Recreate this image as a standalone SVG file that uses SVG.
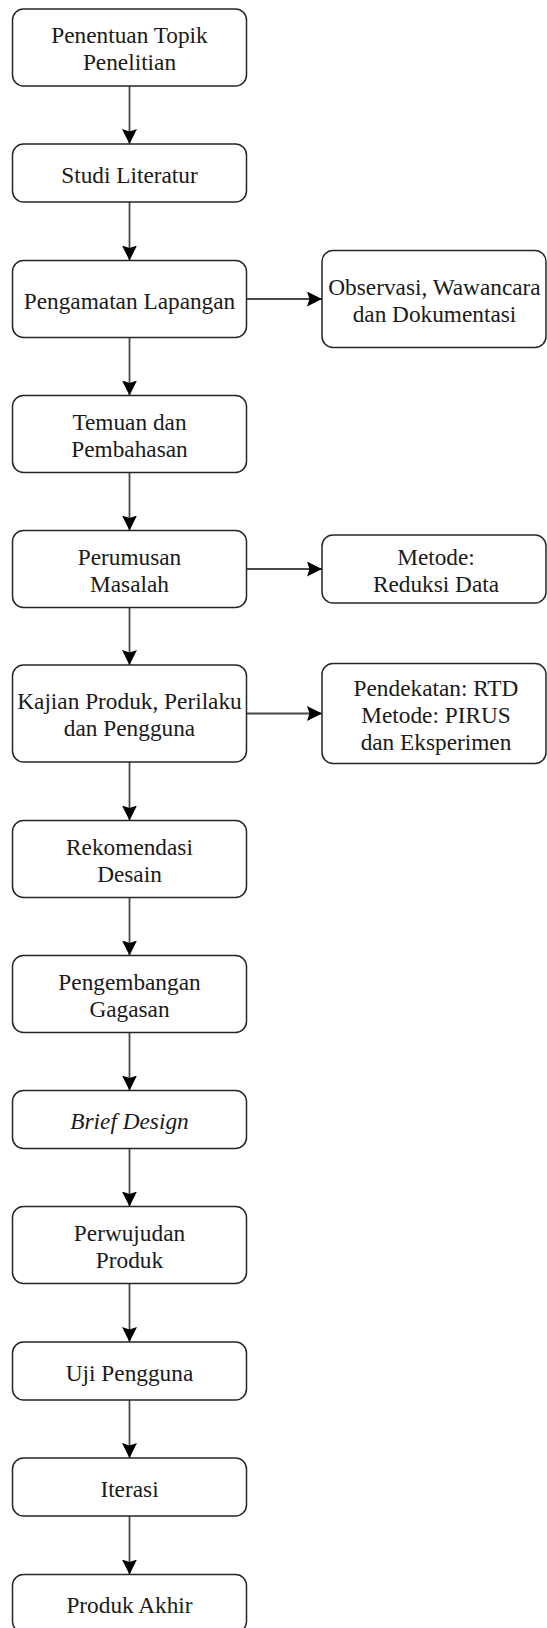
<svg xmlns="http://www.w3.org/2000/svg" width="547" height="1628" viewBox="0 0 547 1628">
<defs>
<style>
.box{fill:#fff;stroke:#262626;stroke-width:1.5}
.t{font-family:"Liberation Serif","Times New Roman",serif;font-size:23.3px;fill:#1a1a1a;text-anchor:middle}
.i{font-style:italic}
.c{fill:none;stroke:#4a4a4a;stroke-width:1.8}
</style>
<marker id="ah" viewBox="0 0 15 15" refX="15" refY="7.5" markerWidth="15" markerHeight="15" orient="auto" markerUnits="userSpaceOnUse">
<path d="M0,0 L15,7.5 L0,15 L2.5,7.5 Z" fill="#000"/>
</marker>
</defs>
<rect width="547" height="1628" fill="#fff"/>
<g id="connectors">
<line class="c" x1="129.5" y1="86" x2="129.5" y2="144" marker-end="url(#ah)"/>
<line class="c" x1="129.5" y1="202" x2="129.5" y2="260.5" marker-end="url(#ah)"/>
<line class="c" x1="129.5" y1="337.5" x2="129.5" y2="395.5" marker-end="url(#ah)"/>
<line class="c" x1="129.5" y1="472.5" x2="129.5" y2="530.5" marker-end="url(#ah)"/>
<line class="c" x1="129.5" y1="607.5" x2="129.5" y2="665" marker-end="url(#ah)"/>
<line class="c" x1="129.5" y1="762" x2="129.5" y2="820.5" marker-end="url(#ah)"/>
<line class="c" x1="129.5" y1="897.5" x2="129.5" y2="955.5" marker-end="url(#ah)"/>
<line class="c" x1="129.5" y1="1032.5" x2="129.5" y2="1090.5" marker-end="url(#ah)"/>
<line class="c" x1="129.5" y1="1148.5" x2="129.5" y2="1206.5" marker-end="url(#ah)"/>
<line class="c" x1="129.5" y1="1283.5" x2="129.5" y2="1342" marker-end="url(#ah)"/>
<line class="c" x1="129.5" y1="1400" x2="129.5" y2="1458" marker-end="url(#ah)"/>
<line class="c" x1="129.5" y1="1516" x2="129.5" y2="1574.5" marker-end="url(#ah)"/>
<line class="c" x1="246.5" y1="299" x2="322" y2="299" marker-end="url(#ah)"/>
<line class="c" x1="246.5" y1="569" x2="322" y2="569" marker-end="url(#ah)"/>
<line class="c" x1="246.5" y1="713.5" x2="322" y2="713.5" marker-end="url(#ah)"/>
</g>
<g id="n1"><rect class="box" x="12.5" y="9" width="234" height="77" rx="11"/><text class="t" x="129.5" y="43">Penentuan Topik</text><text class="t" x="129.5" y="70">Penelitian</text></g>
<g id="n2"><rect class="box" x="12.5" y="144" width="234" height="58" rx="11"/><text class="t" x="129.5" y="182.5">Studi Literatur</text></g>
<g id="n3"><rect class="box" x="12.5" y="260.5" width="234" height="77" rx="11"/><text class="t" x="129.5" y="308.5">Pengamatan Lapangan</text></g>
<g id="n4"><rect class="box" x="12.5" y="395.5" width="234" height="77" rx="11"/><text class="t" x="129.5" y="429.5">Temuan dan</text><text class="t" x="129.5" y="456.5">Pembahasan</text></g>
<g id="n5"><rect class="box" x="12.5" y="530.5" width="234" height="77" rx="11"/><text class="t" x="129.5" y="564.5">Perumusan</text><text class="t" x="129.5" y="591.5">Masalah</text></g>
<g id="n6"><rect class="box" x="12.5" y="665" width="234" height="97" rx="11"/><text class="t" x="129.5" y="709">Kajian Produk, Perilaku</text><text class="t" x="129.5" y="736">dan Pengguna</text></g>
<g id="n7"><rect class="box" x="12.5" y="820.5" width="234" height="77" rx="11"/><text class="t" x="129.5" y="854.5">Rekomendasi</text><text class="t" x="129.5" y="881.5">Desain</text></g>
<g id="n8"><rect class="box" x="12.5" y="955.5" width="234" height="77" rx="11"/><text class="t" x="129.5" y="989.5">Pengembangan</text><text class="t" x="129.5" y="1016.5">Gagasan</text></g>
<g id="n9"><rect class="box" x="12.5" y="1090.5" width="234" height="58" rx="11"/><text class="t i" x="129.5" y="1129">Brief Design</text></g>
<g id="n10"><rect class="box" x="12.5" y="1206.5" width="234" height="77" rx="11"/><text class="t" x="129.5" y="1240.5">Perwujudan</text><text class="t" x="129.5" y="1267.5">Produk</text></g>
<g id="n11"><rect class="box" x="12.5" y="1342" width="234" height="58" rx="11"/><text class="t" x="129.5" y="1380.5">Uji Pengguna</text></g>
<g id="n12"><rect class="box" x="12.5" y="1458" width="234" height="58" rx="11"/><text class="t" x="129.5" y="1496.5">Iterasi</text></g>
<g id="n13"><rect class="box" x="12.5" y="1574.5" width="234" height="58" rx="11"/><text class="t" x="129.5" y="1613">Produk Akhir</text></g>
<g id="r1"><rect class="box" x="322" y="250.5" width="224" height="97" rx="11"/><text class="t" x="434.5" y="294.5">Observasi, Wawancara</text><text class="t" x="434.5" y="321.5">dan Dokumentasi</text></g>
<g id="r2"><rect class="box" x="322" y="535" width="224" height="68" rx="11"/><text class="t" x="436" y="564.5">Metode:</text><text class="t" x="436" y="591.5">Reduksi Data</text></g>
<g id="r3"><rect class="box" x="322" y="663.5" width="224" height="100" rx="11"/><text class="t" x="436" y="695.5">Pendekatan: RTD</text><text class="t" x="436" y="722.5">Metode: PIRUS</text><text class="t" x="436" y="749.5">dan Eksperimen</text></g>
</svg>
